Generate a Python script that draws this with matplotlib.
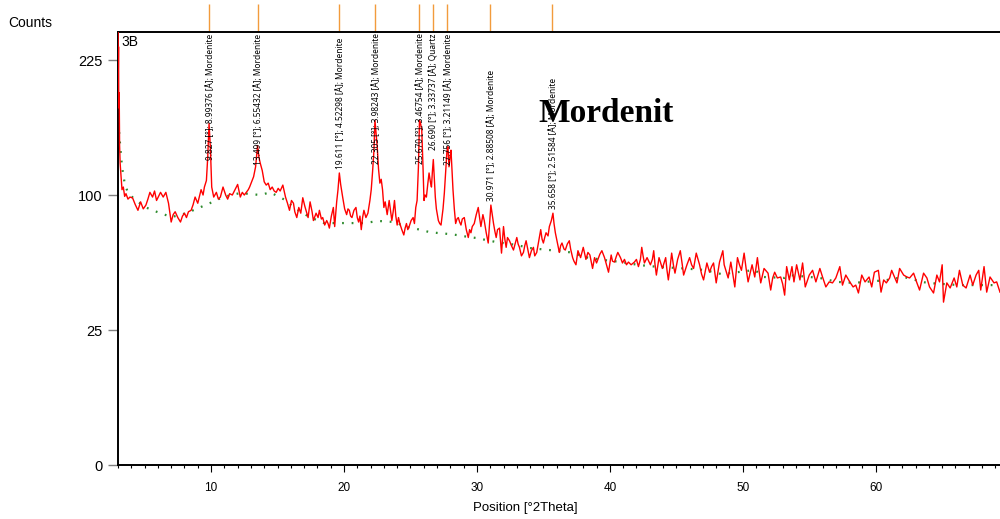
import numpy as np
import matplotlib
matplotlib.use("Agg")
import matplotlib.pyplot as plt
from matplotlib.ticker import FixedLocator, MultipleLocator
import matplotlib.transforms as mtransforms

plt.rcParams['font.family'] = ['Liberation Sans', 'DejaVu Sans']

# measured pattern (position in degrees 2theta, counts)
two_theta = [
    3.00, 3.02, 3.04, 3.06, 3.09, 3.12, 3.16, 3.2, 3.3, 3.4, 3.5, 3.6, 3.75, 3.9, 4.1, 4.3, 4.5, 4.7, 4.9, 5.1,
    5.25, 5.4, 5.6, 5.75, 5.9, 6.05, 6.2, 6.4, 6.6, 6.8, 7.0, 7.15, 7.3, 7.5, 7.7, 7.85, 8.0, 8.15, 8.3, 8.5,
    8.65, 8.8, 9.0, 9.15, 9.25, 9.4, 9.5, 9.65, 9.75, 9.85, 9.95, 10.05, 10.2, 10.4, 10.55, 10.7, 10.9, 11.1, 11.25, 11.4,
    11.6, 11.8, 12.0, 12.2, 12.35, 12.5, 12.65, 12.8, 12.9, 13.05, 13.2, 13.35, 13.5, 13.6, 13.7, 13.85, 14.0, 14.15, 14.3, 14.45,
    14.6, 14.75, 14.9, 15.05, 15.2, 15.4, 15.6, 15.75, 15.9, 16.05, 16.2, 16.3, 16.45, 16.6, 16.75, 16.9, 17.05, 17.2, 17.3, 17.45,
    17.6, 17.7, 17.9, 18.05, 18.15, 18.3, 18.4, 18.55, 18.7, 18.8, 18.9, 19.05, 19.2, 19.3, 19.45, 19.55, 19.65, 19.75, 19.9, 20.05,
    20.2, 20.3, 20.4, 20.5, 20.6, 20.75, 20.9, 21.0, 21.1, 21.2, 21.3, 21.4, 21.5, 21.65, 21.8, 21.95, 22.05, 22.15, 22.25, 22.33,
    22.42, 22.5, 22.6, 22.7, 22.8, 22.9, 23.0, 23.1, 23.25, 23.4, 23.5, 23.6, 23.7, 23.8, 23.9, 24.0, 24.1, 24.2, 24.35, 24.5,
    24.6, 24.7, 24.8, 24.9, 25.05, 25.2, 25.3, 25.4, 25.5, 25.6, 25.68, 25.76, 25.85, 25.95, 26.02, 26.1, 26.2, 26.3, 26.4, 26.5,
    26.58, 26.65, 26.72, 26.8, 26.87, 26.95, 27.1, 27.2, 27.3, 27.45, 27.55, 27.65, 27.75, 27.82, 27.9, 27.98, 28.05, 28.12, 28.2, 28.3,
    28.4, 28.5, 28.6, 28.7, 28.8, 28.9, 29.05, 29.2, 29.35, 29.45, 29.55, 29.65, 29.8, 29.95, 30.1, 30.2, 30.3, 30.45, 30.55, 30.7,
    30.85, 30.95, 31.05, 31.15, 31.25, 31.35, 31.45, 31.55, 31.7, 31.85, 32.0, 32.1, 32.2, 32.3, 32.45, 32.6, 32.75, 32.9, 33.0, 33.1,
    33.2, 33.35, 33.5, 33.6, 33.7, 33.85, 33.95, 34.1, 34.25, 34.35, 34.5, 34.65, 34.8, 34.9, 35.0, 35.1, 35.2, 35.35, 35.45, 35.6,
    35.72, 35.8, 35.9, 36.05, 36.2, 36.3, 36.4, 36.55, 36.65, 36.8, 36.95, 37.05, 37.2, 37.3, 37.45, 37.6, 37.8, 38.0, 38.2, 38.35,
    38.5, 38.7, 38.85, 39.0, 39.1, 39.25, 39.4, 39.6, 39.75, 39.9, 40.1, 40.2, 40.35, 40.5, 40.6, 40.8, 40.95, 41.1, 41.25, 41.4,
    41.6, 41.85, 42.0, 42.15, 42.3, 42.4, 42.5, 42.6, 42.8, 43.05, 43.2, 43.3, 43.4, 43.5, 43.7, 43.95, 44.2, 44.3, 44.4, 44.55,
    44.65, 44.8, 44.9, 45.1, 45.3, 45.45, 45.55, 45.8, 46.0, 46.15, 46.3, 46.5, 46.75, 46.9, 47.05, 47.3, 47.5, 47.65, 47.8, 48.0,
    48.25, 48.5, 48.6, 48.9, 49.1, 49.25, 49.4, 49.6, 49.75, 49.9, 50.1, 50.25, 50.4, 50.7, 50.9, 51.1, 51.2, 51.35, 51.6, 51.9,
    52.1, 52.25, 52.4, 52.6, 52.85, 53.0, 53.15, 53.3, 53.5, 53.7, 53.85, 54.05, 54.3, 54.5, 54.7, 55.0, 55.25, 55.5, 55.8, 56.0,
    56.25, 56.5, 56.75, 57.0, 57.3, 57.5, 57.75, 58.05, 58.3, 58.5, 58.7, 58.95, 59.2, 59.5, 59.7, 59.9, 60.2, 60.4, 60.6, 60.8,
    61.05, 61.2, 61.35, 61.6, 61.8, 62.1, 62.35, 62.55, 62.85, 63.1, 63.3, 63.6, 63.85, 64.05, 64.35, 64.6, 64.8, 65.0, 65.1, 65.35,
    65.6, 65.9, 66.1, 66.3, 66.55, 66.8, 67.1, 67.3, 67.55, 67.75, 67.9, 68.15, 68.35, 68.6, 68.9, 69.1, 69.35,
]
counts = [
    300, 210, 240, 175, 190, 140, 125, 119, 104, 106, 99, 101, 97, 98.5, 97.8, 93, 89, 95, 90, 92.7,
    97, 102, 98.5, 103, 96, 99, 102, 98.5, 102, 94, 81, 86, 88, 84, 81, 85, 87, 84, 88, 89,
    93, 98.5, 94, 100, 104, 100, 106, 111, 130, 160, 138, 106, 98.5, 102, 97, 98.5, 106, 100, 97, 101,
    100, 104, 108, 98.5, 102, 100, 102, 104, 106, 110, 114, 122, 140, 130, 125, 119, 110, 107.5, 109, 104,
    106, 103, 102, 105, 103, 107.5, 98.5, 94, 89, 96, 94, 88, 84, 91, 87, 98, 92, 87, 84, 95,
    88, 82, 87, 84, 89, 83, 84, 79, 82, 80, 77, 85, 91, 78, 95, 104, 117, 108, 98.5, 90,
    86, 90, 89, 85, 84, 89, 91, 84, 81, 85, 76, 84, 89, 84, 87, 96, 104, 118, 135, 163,
    150, 139, 120, 109, 112, 104, 91, 95, 86, 96, 89, 82, 88, 96, 85, 79, 84, 80, 76, 72.6,
    77, 80, 76, 78, 82, 84, 80, 91, 96, 122, 163, 160, 154, 120, 96, 100, 98.5, 108, 117, 110,
    106, 118, 128, 112, 98.5, 90, 82, 80, 79, 90, 101.5, 118, 136, 139, 122, 130, 136, 120, 104, 90,
    80, 83, 84, 81, 79, 83, 84, 76, 71, 76, 74, 78, 80, 86, 91, 84, 78, 86, 82, 74,
    67.6, 80, 92.7, 86, 80, 75, 71, 76, 77, 61.6, 78, 70, 65, 71, 69, 66, 63.4, 68, 71, 67,
    65, 60, 62, 66, 69, 63, 59, 63, 65, 60, 62, 69, 76, 70, 67.6, 71, 74, 72, 78, 82,
    87, 80, 74, 68, 62, 66, 67.6, 64, 63.4, 67, 69, 64, 59, 57, 55, 63, 59, 65, 58, 62,
    60.5, 53, 59, 56, 58, 61, 63, 59, 55, 51, 60.5, 57, 56.5, 60, 62, 59, 56, 58, 55, 56.5,
    55, 56.5, 58, 54, 58, 65, 60, 56, 59, 55, 58, 63, 55, 49.5, 59, 53, 59, 52, 47, 55,
    61.6, 54, 50.5, 58, 63, 55, 49.5, 55, 59, 55, 53, 61.6, 55, 50, 47, 56, 51, 54, 56, 45.5,
    56.5, 63, 55, 48, 56.5, 50, 43.5, 59, 55, 52, 61.6, 53, 46, 55, 48.5, 59, 53, 45.5, 53, 50.5,
    42, 48, 51, 48, 48.5, 45, 39.6, 54, 47, 54, 46, 55, 47, 56, 43.5, 49.5, 52, 46, 53, 48.5,
    43.5, 46, 45.5, 48, 54, 44.4, 49.5, 46, 43.5, 44.4, 40.6, 49.5, 46, 48.5, 43.5, 51, 52, 41, 47, 45.5,
    48, 52, 49.5, 45.5, 53, 49.5, 48.5, 48, 50.5, 45.5, 42, 50.5, 48, 43.5, 40.6, 49.5, 46, 55, 36.4, 45.5,
    43, 48, 43.5, 52, 44.4, 43, 49.5, 44.4, 49.5, 52, 42, 54, 41, 48.5, 45.5, 46, 41,
]

# fitted background
bg_theta = [3.0, 3.1, 3.3, 3.5, 3.75, 4.35, 5.1, 5.9, 7.0, 7.7, 8.65, 9.9, 10.9, 12.2, 13.7, 14.45,
            15.65, 16.2, 17.4, 18.5, 20.1, 21.5, 22.6, 23.8, 24.7, 25.5, 26.4, 27.1, 27.9, 28.45,
            29.4, 29.95, 31.45, 33.0, 33.95, 35.45, 37.1, 38.1, 39.6, 40.9, 42.15, 43.7, 45.2, 47.1,
            48.4, 49.7, 50.9, 51.6, 53.15, 53.5, 55.8, 57.1, 58.35, 60.8, 62.1, 63.85, 66.3, 68.35, 69.35]
bg_counts = [170, 149, 122, 109, 101.5, 96, 91, 88, 84.4, 85.7, 89, 94, 98.5, 101.5, 100, 102,
             96, 91, 84.4, 80.3, 80.3, 80.3, 81.7, 81, 77.7, 76.4, 74.5, 73.8, 73.2, 72.6,
             71.3, 70.7, 68.2, 66.4, 64.6, 63.4, 62, 59.3, 57.6, 56.5, 54.9, 53.8, 53.2, 52.2,
             50, 51.1, 52.2, 48.5, 48, 49.5, 48, 46, 45.5, 46.9, 48.5, 45.5, 44.4, 44.4, 44.4]

# identified peaks
peak_pos = [9.827, 13.499, 19.611, 22.305, 25.670, 26.690, 27.756, 30.971, 35.658]
peak_d = ["8.99376", "6.55432", "4.52298", "3.98243", "3.46754", "3.33737", "3.21149", "2.88508", "2.51584"]
peak_phase = ["Mordenite", "Mordenite", "Mordenite", "Mordenite", "Mordenite", "Quartz",
              "Mordenite", "Mordenite", "Mordenite"]
label_top = [0.997, 0.997, 0.988, 0.997, 0.997, 0.997, 0.997, 0.912, 0.894]

y_ticks = [0, 25, 100, 225]

fig = plt.figure(figsize=(10, 5.19), dpi=100)
ax = fig.add_axes([0.118, 0.104, 0.882, 0.834])

ax.set_yscale('function', functions=(lambda v: np.sqrt(np.clip(v, 0, None)), lambda v: v ** 2))

ax.plot(bg_theta, bg_counts, color='#2e8b2e', lw=1.6, linestyle=(0, (0.8, 3.5)), zorder=2)
ax.plot(two_theta, counts, color='#ff0000', lw=1.0, zorder=3)

ax.set_xlim(3.0, 69.35)
ax.set_ylim(0, 257)

# peak markers above the frame
trans = mtransforms.blended_transform_factory(ax.transData, ax.transAxes)
ax.vlines(peak_pos, 1.0, 1.065, transform=trans, color='#f29b3c', lw=1.0, clip_on=False)

for x, d, ph, yt in zip(peak_pos, peak_d, peak_phase, label_top):
    ax.annotate(f"{x:.3f} [°]; {d} [Å]; {ph}", xy=(x, yt), xycoords=trans,
                xytext=(1.0, 0), textcoords='offset points',
                rotation=90, ha='center', va='top', fontsize=6.0,
                family=['Noto Sans', 'DejaVu Sans'], fontstretch='extra-condensed',
                color='black', zorder=5)

ax.xaxis.set_major_locator(MultipleLocator(10))
ax.xaxis.set_minor_locator(MultipleLocator(1))
ax.yaxis.set_major_locator(FixedLocator(y_ticks))
ax.yaxis.set_minor_locator(FixedLocator([]))
ax.set_xticks([10, 20, 30, 40, 50, 60])

ax.tick_params(axis='x', which='major', direction='out', length=5, width=0.8, labelsize=8.5, pad=7)
ax.tick_params(axis='x', which='minor', direction='out', length=2.5, width=0.8)
ax.tick_params(axis='y', which='major', direction='out', length=7.5, width=1.0, color='#808080',
               labelsize=10.5, pad=3.5)

ax.spines['right'].set_visible(False)
for s in ['left', 'bottom', 'top']:
    ax.spines[s].set_linewidth(1.4)
    ax.spines[s].set_color('black')

ax.text(0.004, 0.993, '3B', transform=ax.transAxes, fontsize=10, ha='left', va='top')
fig.text(0.008, 0.955, 'Counts', fontsize=10, ha='left', va='center')
fig.text(0.525, 0.021, 'Position [°2Theta]', fontsize=9.5, ha='center', va='center')
fig.text(0.538, 0.765, 'Mordenit', family='Liberation Serif', fontweight='bold', fontsize=24,
         ha='left', va='baseline')

fig.savefig('out.png', dpi=100)
